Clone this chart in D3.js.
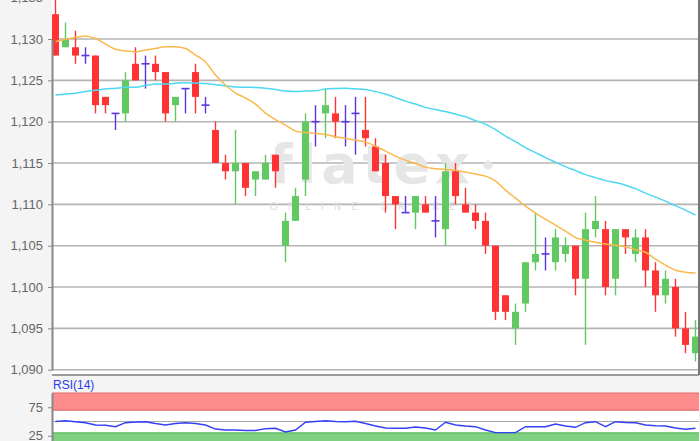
<!DOCTYPE html>
<html>
  <head>
    <meta charset="utf-8">
    <script src="https://d3js.org/d3.v7.min.js"></script>
    <style>
      body { margin: 0; background: #f4f4f4; }
      .tick-label { font-family: "Liberation Sans", Arial, sans-serif; font-size: 13px; fill: #666; }
    </style>
  </head>
  <body>
    <script>

      // candles, left to right
      var opens  = [1.133,1.129,1.129,1.128,1.128,1.123,1.121,1.121,1.127,1.127,1.127,1.126,1.122,1.124,1.126,1.122,
                    1.119,1.115,1.114,1.115,1.113,1.113,1.116,1.105,1.108,1.113,1.120,1.121,1.121,1.120,1.121,1.119,
                    1.117,1.115,1.111,1.109,1.109,1.110,1.108,1.107,1.114,1.110,1.109,1.108,1.105,1.099,1.095,1.098,
                    1.103,1.104,1.103,1.104,1.105,1.101,1.107,1.107,1.101,1.107,1.104,1.106,1.102,1.099,1.100,1.095,1.092];
      var highs  = [1.1352,1.132,1.131,1.129,1.128,1.123,1.121,1.126,1.129,1.128,1.128,1.126,1.123,1.124,1.127,1.123,
                    1.120,1.116,1.119,1.115,1.114,1.116,1.116,1.109,1.112,1.121,1.122,1.124,1.123,1.122,1.123,1.123,
                    1.118,1.116,1.111,1.111,1.111,1.111,1.111,1.115,1.115,1.112,1.110,1.109,1.105,1.099,1.098,1.103,
                    1.109,1.106,1.107,1.106,1.105,1.109,1.111,1.108,1.107,1.107,1.107,1.107,1.103,1.102,1.101,1.097,1.096];
      var lows   = [1.128,1.129,1.127,1.127,1.121,1.121,1.119,1.120,1.125,1.124,1.125,1.120,1.120,1.121,1.121,1.121,
                    1.115,1.113,1.110,1.111,1.111,1.113,1.112,1.103,1.108,1.111,1.117,1.118,1.118,1.117,1.116,1.117,
                    1.114,1.109,1.107,1.109,1.107,1.109,1.106,1.105,1.110,1.109,1.107,1.104,1.096,1.096,1.093,1.097,
                    1.102,1.102,1.102,1.103,1.099,1.093,1.106,1.099,1.099,1.104,1.103,1.100,1.097,1.098,1.094,1.092,1.091];
      var closes = [1.128,1.130,1.128,1.128,1.122,1.122,1.121,1.125,1.125,1.127,1.126,1.121,1.123,1.124,1.123,1.122,
                    1.115,1.114,1.115,1.112,1.114,1.115,1.114,1.108,1.111,1.120,1.120,1.122,1.120,1.120,1.121,1.118,
                    1.114,1.111,1.110,1.109,1.111,1.109,1.108,1.114,1.111,1.109,1.108,1.105,1.097,1.097,1.097,1.103,
                    1.104,1.104,1.106,1.105,1.101,1.107,1.108,1.100,1.107,1.106,1.106,1.102,1.099,1.101,1.095,1.093,1.094];

      // moving averages (orange / cyan)
      var maFast = [1.12967,1.12996,1.13018,1.13036,1.13006,1.12939,1.12875,1.12855,1.12846,1.12867,1.12885,1.12907,1.12907,
                    1.12885,1.12806,1.12722,1.12564,1.12443,1.12346,1.12286,1.12213,1.12104,1.12025,1.11959,1.11886,1.11868,
                    1.11858,1.11844,1.11819,1.11798,1.11777,1.11753,1.11705,1.11644,1.11584,1.11535,1.11495,1.1145,1.11432,
                    1.11422,1.11414,1.1139,1.11366,1.11341,1.11281,1.11172,1.11075,1.10978,1.10893,1.10821,1.10748,1.10676,
                    1.10597,1.10567,1.10542,1.1052,1.10506,1.10488,1.10451,1.10421,1.10337,1.10264,1.10203,1.10179,1.1017];
      var maSlow = [1.12322,1.12334,1.12343,1.12364,1.1238,1.12395,1.12404,1.12415,1.12415,1.12437,1.12455,1.12455,1.12464,
                    1.12471,1.12467,1.12461,1.12447,1.12435,1.12419,1.12416,1.12413,1.12404,1.12389,1.1237,1.12364,1.1237,
                    1.12374,1.12395,1.12401,1.12403,1.12397,1.12389,1.12364,1.12334,1.12291,1.12249,1.12213,1.12173,1.12146,
                    1.12122,1.12092,1.12059,1.12013,1.11971,1.11904,1.11826,1.11759,1.11686,1.11626,1.11565,1.11511,1.11456,
                    1.11408,1.1136,1.11323,1.11287,1.11263,1.11232,1.1119,1.11136,1.11087,1.11039,1.10984,1.1093,1.10869];

      var rsi = [50,51.2,49.6,47.7,43.9,43.3,40.9,47.9,49.1,49.6,46.5,43.9,46.5,47.9,46.5,43.9,36.8,35.1,35.1,34.2,
                 34.2,37.4,38.1,31.6,35.1,48.6,50,51.4,50,49.6,50.5,46.5,42.1,38.6,38.1,38.2,40.4,38.6,35.1,48.6,
                 43.9,42.1,40.9,35.1,30.4,30.4,30.4,40.9,40.9,40.9,45.6,42.1,39.8,47.9,49.6,40.9,49.6,48.2,47.9,43.9,
                 42.6,42.1,38.6,36.3,38.1];

      var priceTicks = [1.090,1.095,1.100,1.105,1.110,1.115,1.120,1.125,1.130,1.135];
      var rsiTicks = [75,25];
      var rsiBands = [[70,100,"#ff8c8c","#e46a6a"],[0,30,"#7fd07f","#5fb85f"]];

      var W = 700, H = 441;
      var left = 52, right = 699;
      var mainBottom = 375;
      var rsiTop = 393, rsiBottom = 450;

      var de = d3.formatLocale({decimal: ",", thousands: ".", grouping: [3], currency: ["", "€"]});
      var fmt = de.format(".3f");

      var svg = d3.select("body").append("svg")
          .attr("width", W)
          .attr("height", H)
          .style("display", "block");

      svg.append("rect").attr("width", W).attr("height", H).attr("fill", "#f4f4f4");

      var x = d3.scaleBand().domain(d3.range(opens.length)).range([left, right]).paddingInner(0.3);
      var y = d3.scaleLinear().domain([1.090, 1.130]).range([369.7, 39]);
      var yr = d3.scaleLinear().domain([0, 100]).range([rsiBottom, rsiTop]);
      var cx = function(i){ return x(i) + x.bandwidth() / 2; };

      // main panel
      svg.append("rect")
          .attr("x", left).attr("y", -20)
          .attr("width", right - left).attr("height", mainBottom + 20)
          .attr("fill", "#fff");

      svg.append("g")
          .selectAll("line")
          .data(priceTicks)
          .enter().append("line")
          .attr("x1", left).attr("x2", right)
          .attr("y1", function(d){ return y(d); })
          .attr("y2", function(d){ return y(d); })
          .attr("stroke", "#b4b4b4")
          .attr("stroke-width", 1.6);

      // watermark
      var wm = svg.append("g").attr("fill", "#e6e6e6");
      wm.append("text")
          .attr("x", 372).attr("y", 183)
          .attr("text-anchor", "middle")
          .style("font-family", "'DejaVu Sans', sans-serif")
          .style("font-weight", "bold")
          .style("font-size", "54px")
          .style("letter-spacing", "5px")
          .text("flatex");
      wm.append("circle").attr("cx", 488).attr("cy", 165).attr("r", 4.5);
      wm.append("text")
          .attr("x", 376).attr("y", 210)
          .attr("text-anchor", "middle")
          .style("font-family", "'DejaVu Sans', sans-serif")
          .style("font-size", "10px")
          .style("letter-spacing", "10px")
          .attr("fill", "#dedede")
          .text("ONLINE BROKER");

      // candles
      var candles = svg.append("g")
          .selectAll("g")
          .data(d3.range(opens.length))
          .enter().append("g");

      function colour(i) {
        if (closes[i] > opens[i]) return "#62c862";
        if (closes[i] < opens[i]) return "#ff3333";
        return "#5a34de";
      }

      candles.append("line")
          .attr("x1", cx).attr("x2", cx)
          .attr("y1", function(i){ return y(highs[i]); })
          .attr("y2", function(i){ return y(lows[i]); })
          .attr("stroke", colour)
          .attr("stroke-width", 1.4);

      candles.filter(function(i){ return closes[i] !== opens[i]; })
          .append("rect")
          .attr("x", function(i){ return x(i); })
          .attr("width", x.bandwidth())
          .attr("y", function(i){ return y(Math.max(opens[i], closes[i])); })
          .attr("height", function(i){ return Math.abs(y(opens[i]) - y(closes[i])); })
          .attr("fill", colour);

      candles.filter(function(i){ return closes[i] === opens[i]; })
          .append("line")
          .attr("x1", function(i){ return x(i) - 0.5; })
          .attr("x2", function(i){ return x(i) + x.bandwidth() + 0.5; })
          .attr("y1", function(i){ return y(closes[i]); })
          .attr("y2", function(i){ return y(closes[i]); })
          .attr("stroke", colour)
          .attr("stroke-width", 1.6);

      // moving averages
      var maLine = function(arr){
        return d3.line().x(function(d, i){ return cx(i); }).y(function(d){ return y(d); }).curve(d3.curveMonotoneX)(arr);
      };
      svg.append("path").attr("d", maLine(maSlow)).attr("fill", "none").attr("stroke", "#4cd8f0").attr("stroke-width", 1.5);
      svg.append("path").attr("d", maLine(maFast)).attr("fill", "none").attr("stroke", "#fbb84a").attr("stroke-width", 1.5);

      // frame
      svg.append("line").attr("x1", left).attr("x2", right).attr("y1", mainBottom).attr("y2", mainBottom)
          .attr("stroke", "#999").attr("stroke-width", 2);
      svg.append("line").attr("x1", right).attr("x2", right).attr("y1", -20).attr("y2", mainBottom)
          .attr("stroke", "#777").attr("stroke-width", 2);

      var yAxis = d3.axisLeft(y).tickValues(priceTicks).tickFormat(fmt).tickSize(4).tickSizeOuter(0).tickPadding(5);
      var ya = svg.append("g")
          .attr("transform", "translate(" + left + ",0)")
          .call(yAxis);
      ya.select(".domain").attr("stroke", "#888").attr("stroke-width", 2);
      ya.selectAll(".tick line").attr("stroke", "#888");
      ya.selectAll(".tick text").attr("class", "tick-label").attr("font-family", null).attr("font-size", null);

      // RSI panel
      svg.append("text")
          .attr("x", 53).attr("y", 389)
          .style("font-family", "'Liberation Sans', Arial, sans-serif")
          .style("font-size", "12px")
          .attr("fill", "#2a3cf0")
          .text("RSI(14)");

      svg.append("rect")
          .attr("x", left).attr("y", rsiTop)
          .attr("width", right - left).attr("height", H - rsiTop)
          .attr("fill", "#fff");

      rsiBands.forEach(function(b){
        svg.append("rect")
            .attr("x", left).attr("width", right - left)
            .attr("y", yr(b[1])).attr("height", yr(b[0]) - yr(b[1]))
            .attr("fill", b[2]);
        [b[0], b[1]].forEach(function(v){
          if (v === 0) return;
          svg.append("line")
              .attr("x1", left).attr("x2", right)
              .attr("y1", yr(v)).attr("y2", yr(v))
              .attr("stroke", b[3]).attr("stroke-width", 1.2);
        });
      });

      svg.append("line")
          .attr("x1", left).attr("x2", right)
          .attr("y1", yr(50)).attr("y2", yr(50))
          .attr("stroke", "#aaa").attr("stroke-width", 1.2);

      svg.append("path")
          .attr("d", d3.line().x(function(d, i){ return cx(i); }).y(function(d){ return yr(d); })(rsi))
          .attr("fill", "none")
          .attr("stroke", "#3340f5")
          .attr("stroke-width", 1.4);

      var rAxis = d3.axisLeft(yr).tickValues(rsiTicks).tickSize(4).tickSizeOuter(0).tickPadding(5);
      var ra = svg.append("g")
          .attr("transform", "translate(" + left + ",0)")
          .call(rAxis);
      ra.select(".domain").attr("stroke", "#888").attr("stroke-width", 2);
      ra.selectAll(".tick line").attr("stroke", "#888");
      ra.selectAll(".tick text").attr("class", "tick-label").attr("font-family", null).attr("font-size", null);

    </script>
  </body>
</html>
